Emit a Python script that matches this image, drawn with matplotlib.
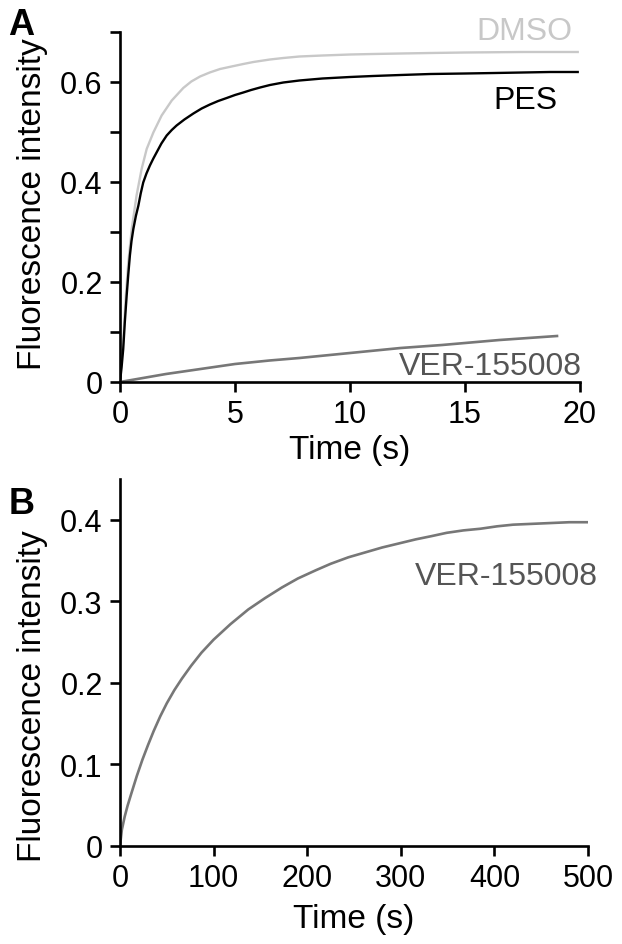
import matplotlib
matplotlib.use("Agg")
import matplotlib.pyplot as plt
from matplotlib.ticker import FixedLocator, FixedFormatter

plt.rcParams["font.family"] = ["Liberation Sans", "DejaVu Sans"]

# panel A: fast phase (s, fluorescence intensity)
dmso_t = [0, 0.08, 0.15, 0.25, 0.36, 0.51, 0.72, 0.94, 1.16, 1.45, 1.81, 2.25, 2.75,
          3.1, 3.48, 3.9, 4.35, 4.85, 5.36, 5.8, 6.23, 6.52, 7.1, 7.8, 8.8, 10, 11,
          12.2, 13.5, 15, 17.5, 19.9]
dmso_v = [0, 0.05, 0.09, 0.17, 0.239, 0.306, 0.373, 0.426, 0.466, 0.499, 0.533, 0.563,
          0.588, 0.601, 0.611, 0.619, 0.626, 0.631, 0.636, 0.640, 0.643, 0.645, 0.648,
          0.651, 0.653, 0.655, 0.656, 0.657, 0.658, 0.659, 0.66, 0.66]

pes_t = [0, 0.07, 0.14, 0.21, 0.29, 0.36, 0.43, 0.5, 0.58, 0.69, 0.80, 0.9, 1.01, 1.15,
         1.30, 1.45, 1.59, 1.8, 2.03, 2.25, 2.46, 2.8, 3.19, 3.55, 3.91, 4.27, 4.64,
         5.0, 5.36, 5.7, 6.09, 6.52, 7.1, 7.8, 8.8, 10, 11, 12.2, 13.5, 15, 16.3,
         17.5, 18.7, 19.9]
pes_v = [0, 0.03, 0.066, 0.12, 0.173, 0.215, 0.253, 0.282, 0.306, 0.332, 0.353, 0.377,
         0.399, 0.417, 0.433, 0.447, 0.459, 0.477, 0.493, 0.504, 0.513, 0.525, 0.537,
         0.547, 0.555, 0.562, 0.568, 0.574, 0.579, 0.584, 0.589, 0.594, 0.599, 0.603,
         0.607, 0.610, 0.612, 0.614, 0.616, 0.617, 0.618, 0.619, 0.62, 0.62]

ver_fast_t = [0, 1, 2, 3.5, 5, 6.5, 7.8, 10, 12.2, 14, 16.5, 19]
ver_fast_v = [0, 0.008, 0.016, 0.026, 0.036, 0.043, 0.048, 0.058, 0.068, 0.074, 0.084, 0.092]

# panel B: slow phase for VER-155008
ver_slow_t = [0, 2, 5, 8, 12, 18, 24, 30, 36, 43, 50, 58, 66, 76, 87, 100, 118, 137,
              155, 173, 190, 209, 225, 244, 262, 280, 298, 316, 333, 349, 367, 385,
              403, 420, 440, 460, 480, 499]
ver_slow_v = [0, 0.02, 0.036, 0.049, 0.064, 0.086, 0.106, 0.124, 0.141, 0.159, 0.175,
              0.191, 0.205, 0.221, 0.237, 0.253, 0.272, 0.290, 0.304, 0.317, 0.328,
              0.338, 0.346, 0.354, 0.36, 0.366, 0.371, 0.376, 0.380, 0.384, 0.387,
              0.389, 0.392, 0.394, 0.395, 0.396, 0.397, 0.397]

a_yticks = [0, 0.1, 0.2, 0.3, 0.4, 0.5, 0.6, 0.7]
a_ylabels = ["0", "", "0.2", "", "0.4", "", "0.6", ""]
a_xticks = [0, 5, 10, 15, 20]
b_yticks = [0, 0.1, 0.2, 0.3, 0.4]
b_ylabels = ["0", "0.1", "0.2", "0.3", "0.4"]
b_xticks = [0, 100, 200, 300, 400, 500]

c_dmso = "#c8c8c8"
c_pes = "#000000"
c_ver = "#777777"
c_ver_txt = "#555555"

W, H = 622, 945
fig = plt.figure(figsize=(W / 100, H / 100), dpi=100)


def style(ax):
    for s in ("top", "right"):
        ax.spines[s].set_visible(False)
    for s in ("left", "bottom"):
        ax.spines[s].set_linewidth(1.9)
    ax.tick_params(width=1.9, length=7.5, labelsize=22, direction="out")
    ax.tick_params(axis="y", pad=5)
    ax.tick_params(axis="x", pad=5)


axA = fig.add_axes([120 / W, 1 - 383 / H, 460 / W, 350 / H])
axA.plot(dmso_t, dmso_v, color=c_dmso, lw=1.7)
axA.plot(pes_t, pes_v, color=c_pes, lw=1.7)
axA.plot(ver_fast_t, ver_fast_v, color=c_ver, lw=1.9)
axA.set_xlim(0, 20)
axA.set_ylim(0, 0.7)
axA.xaxis.set_major_locator(FixedLocator(a_xticks))
axA.yaxis.set_major_locator(FixedLocator(a_yticks))
axA.yaxis.set_major_formatter(FixedFormatter(a_ylabels))
style(axA)
axA.set_xlabel("Time (s)", fontsize=24, labelpad=3)
axA.set_ylabel("Fluorescence intensity", fontsize=24)
axA.yaxis.set_label_coords(-0.157, 0.51)
axA.text(0.983, 1.003, "DMSO", color=c_dmso, fontsize=23, ha="right", va="center",
         transform=axA.transAxes)
axA.text(0.95, 0.806, "PES", color=c_pes, fontsize=23, ha="right", va="center",
         transform=axA.transAxes)
axA.text(1.004, 0.046, "VER-155008", color=c_ver_txt, fontsize=23, ha="right",
         va="center", transform=axA.transAxes)

axB = fig.add_axes([120 / W, 1 - 847 / H, 468 / W, 367 / H])
axB.plot(ver_slow_t, ver_slow_v, color=c_ver, lw=1.9)
axB.set_xlim(0, 500)
axB.set_ylim(0, 0.45)
axB.xaxis.set_major_locator(FixedLocator(b_xticks))
axB.yaxis.set_major_locator(FixedLocator(b_yticks))
axB.yaxis.set_major_formatter(FixedFormatter(b_ylabels))
style(axB)
axB.set_xlabel("Time (s)", fontsize=24, labelpad=7)
axB.set_ylabel("Fluorescence intensity", fontsize=24)
axB.yaxis.set_label_coords(-0.154, 0.41)
axB.text(1.021, 0.736, "VER-155008", color=c_ver_txt, fontsize=23, ha="right",
         va="center", transform=axB.transAxes)

fig.text(8 / W, 1 - 35 / H, "A", fontsize=26, fontweight="bold", ha="left", va="baseline")
fig.text(9 / W, 1 - 514 / H, "B", fontsize=26, fontweight="bold", ha="left", va="baseline")

fig.savefig("out.png", dpi=100)
